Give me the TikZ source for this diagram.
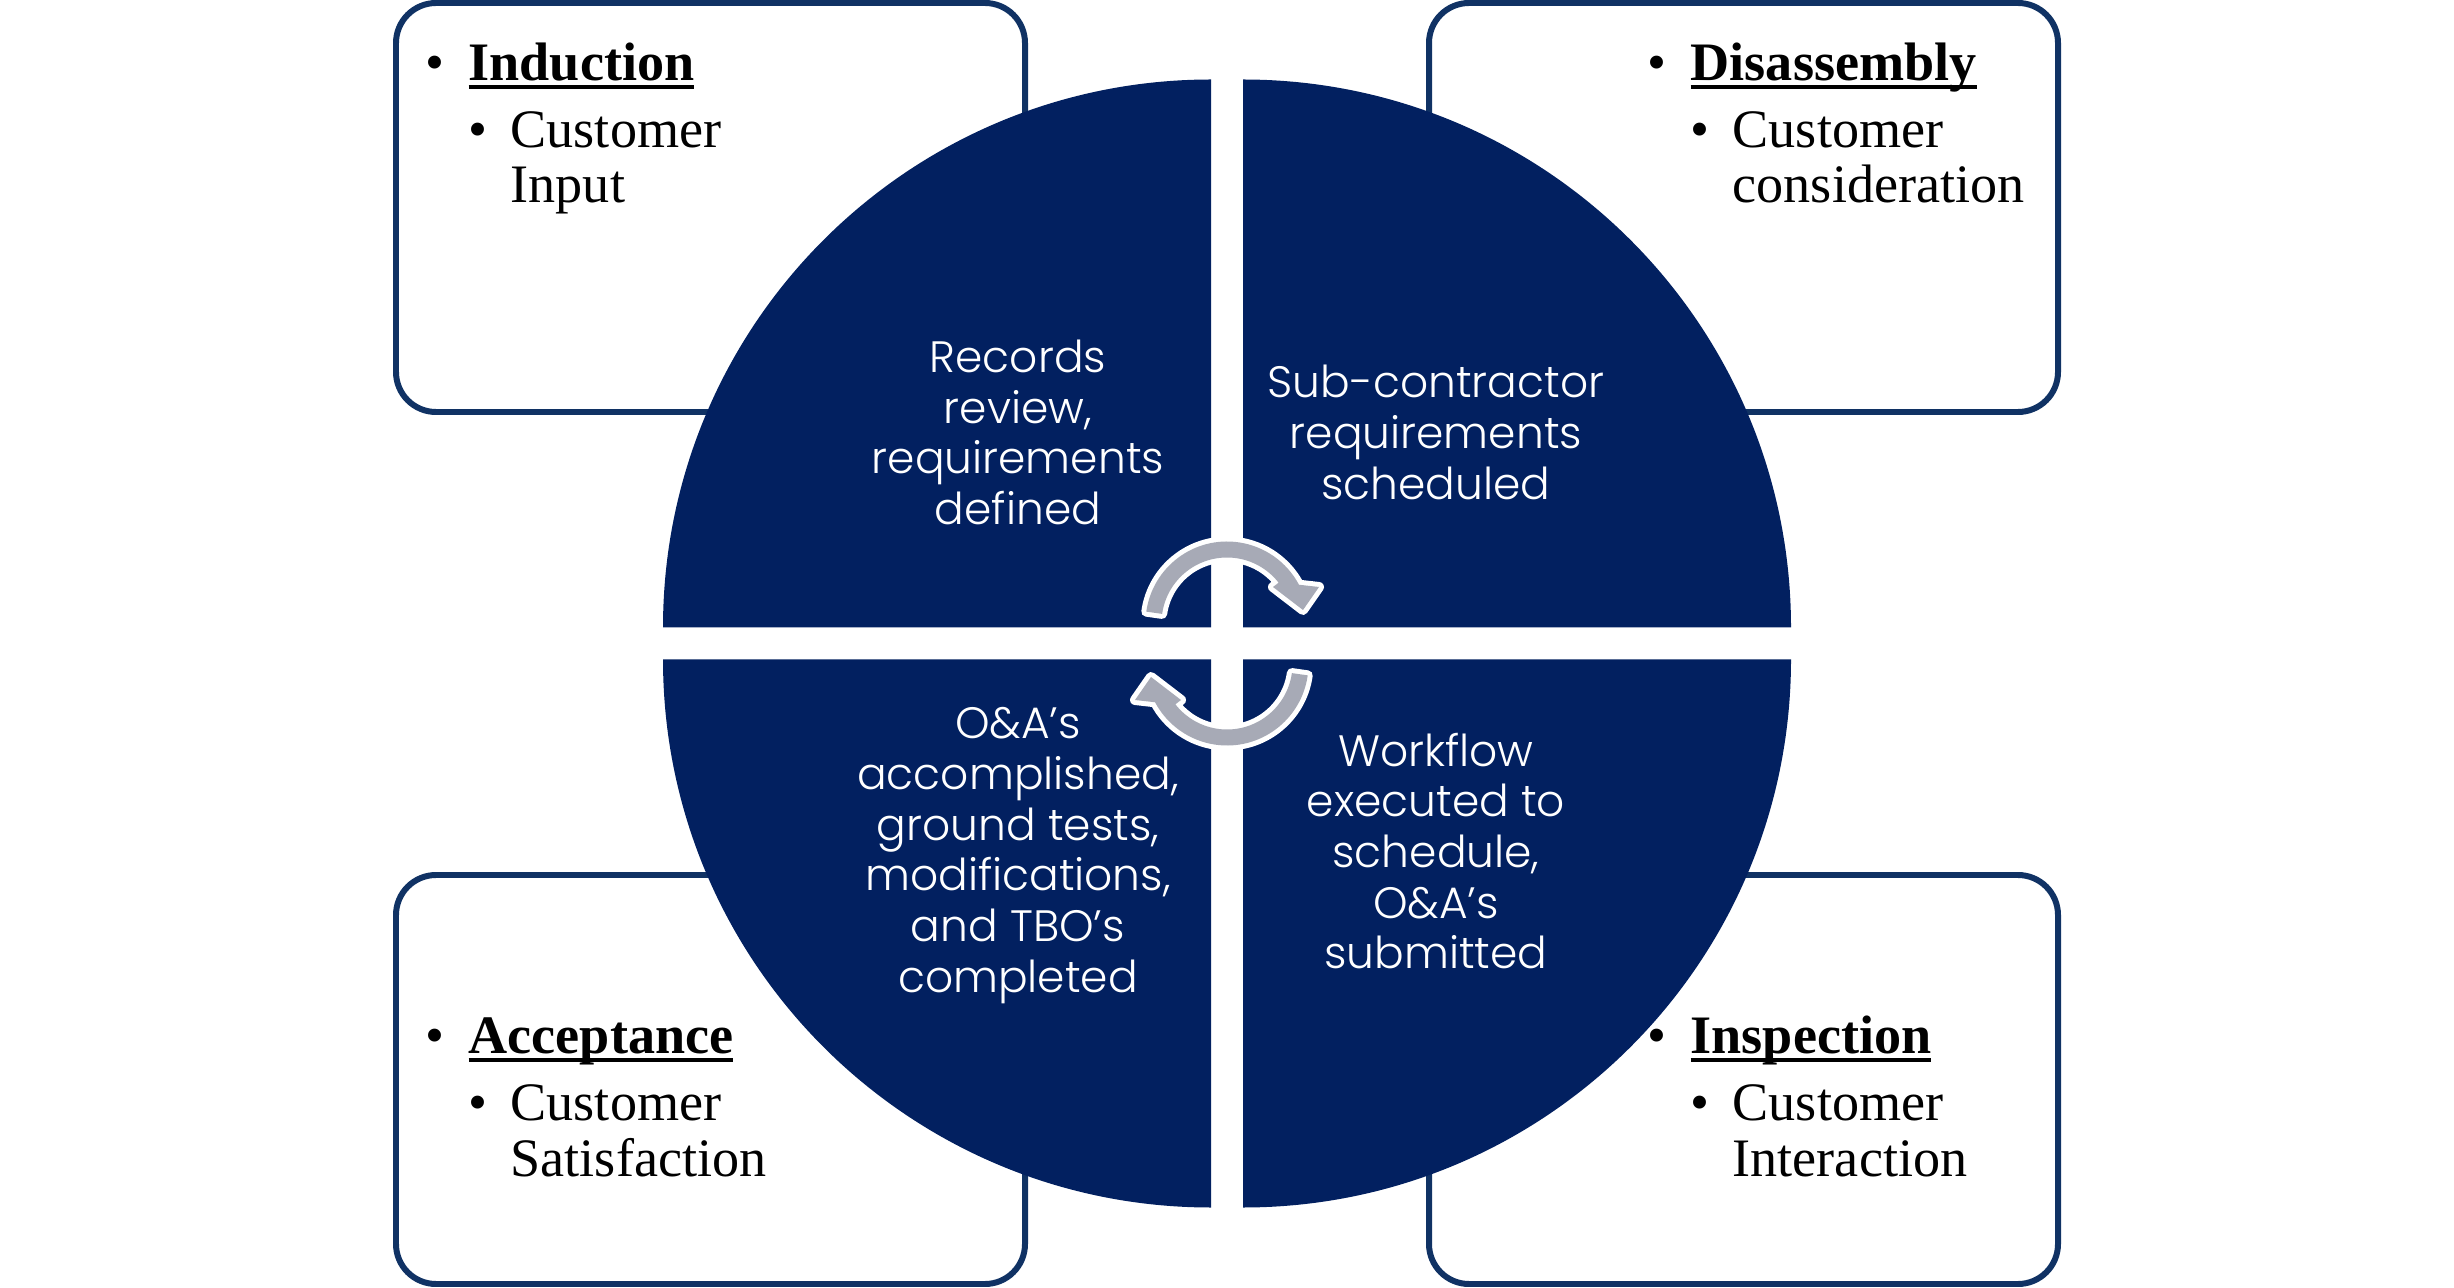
\documentclass[tikz,border=0pt]{standalone}
\usepackage{fontspec}
\setmainfont{Liberation Serif}
\newfontfamily\quadfont{Poppins Light}
\definecolor{navy}{RGB}{2,32,96}
\definecolor{boxline}{RGB}{16,50,100}
\definecolor{arrowgray}{RGB}{167,170,182}
% heading with a fixed-depth underline
\newcommand\headul[1]{\setbox0\hbox{#1}\rlap{\rule[-2.6pt]{\wd0}{1.15pt}}\box0}
\tikzset{
  stagebox/.style={draw=boxline, line width=1.7pt, fill=white, rounded corners=0.4cm},
  quadrant/.style={fill=navy},
  quadtext/.style={text=white, align=center, inner sep=0pt,
    font=\quadfont\fontsize{12.5pt}{14.4pt}\selectfont},
  boxtext/.style={align=left, inner sep=0pt, anchor=base west,
    font=\fontsize{15.4pt}{15.9pt}\selectfont},
  cyclearrow/.style={fill=arrowgray,
    preaction={draw=white, line width=2.85pt, line join=round}}
}
\begin{document}
\begin{tikzpicture}[x=0.01cm,y=0.01cm]
\useasboundingbox (0,0) rectangle (2454,1287);

% stage boxes behind the wheel
\draw[stagebox] (396,875) rectangle (1025,1284);
\draw[stagebox] (1429,875) rectangle (2058,1284);
\draw[stagebox] (396,3) rectangle (1025,412);
\draw[stagebox] (1429,3) rectangle (2058,412);

% four quarter discs of the wheel
\fill[quadrant] (1211,659.5) -- ++(-548,0) arc[start angle=180, end angle=90, radius=548] -- cycle;
\fill[quadrant] (1243,659.5) -- ++(0,548) arc[start angle=90, end angle=0, radius=548] -- cycle;
\fill[quadrant] (1211,627.5) -- ++(-548,0) arc[start angle=180, end angle=270, radius=548] -- cycle;
\fill[quadrant] (1243,627.5) -- ++(548,0) arc[start angle=0, end angle=-90, radius=548] -- cycle;

% quadrant labels
\node[quadtext] (qtl) at (1018,854.5) {Records\\review,\\requirements\\defined};
\node[quadtext] (qtr) at (1436,854.5) {Sub-contractor\\requirements\\scheduled};
\node[quadtext] (qbl) at (1018,431.5) {O\&A’s\\accomplished,\\ground tests,\\modifications,\\and TBO’s\\completed};
\node[quadtext] (qbr) at (1436,436) {Workflow\\executed to\\schedule,\\O\&A’s\\submitted};

% stage box texts (node base = baseline of the last line)
\node[boxtext] (induction) at (468,1084)
  {\llap{•\hspace{0.245cm}}\headul{\bfseries Induction}\\[3.1pt]
   \hspace*{0.42cm}\llap{•\hspace{0.235cm}}Customer\\
   \hspace*{0.42cm}Input};
\node[boxtext] (disassembly) at (1690,1084)
  {\llap{•\hspace{0.245cm}}\headul{\bfseries Disassembly}\\[3.1pt]
   \hspace*{0.42cm}\llap{•\hspace{0.235cm}}Customer\\
   \hspace*{0.42cm}consideration};
\node[boxtext] (acceptance) at (468,111)
  {\llap{•\hspace{0.245cm}}\headul{\bfseries Acceptance}\\[3.1pt]
   \hspace*{0.42cm}\llap{•\hspace{0.235cm}}Customer\\
   \hspace*{0.42cm}Satisfaction};
\node[boxtext] (inspection) at (1690,111)
  {\llap{•\hspace{0.245cm}}\headul{\bfseries Inspection}\\[3.1pt]
   \hspace*{0.42cm}\llap{•\hspace{0.235cm}}Customer\\
   \hspace*{0.42cm}Interaction};

% circular arrows at the hub
\fill[cyclearrow] ([shift={(1227,664)}]172:81.5)
  arc[start angle=172, end angle=28, radius=81.5]
  -- (1319,700) -- (1303,677) -- (1273,700)
  -- ([shift={(1227,664)}]38:65.5)
  arc[start angle=38, end angle=172, radius=65.5] -- cycle;
\begin{scope}[rotate around={180:(1227,643.5)}]
\fill[cyclearrow] ([shift={(1227,664)}]172:81.5)
  arc[start angle=172, end angle=28, radius=81.5]
  -- (1319,700) -- (1303,677) -- (1273,700)
  -- ([shift={(1227,664)}]38:65.5)
  arc[start angle=38, end angle=172, radius=65.5] -- cycle;
\end{scope}
\end{tikzpicture}
\end{document}
